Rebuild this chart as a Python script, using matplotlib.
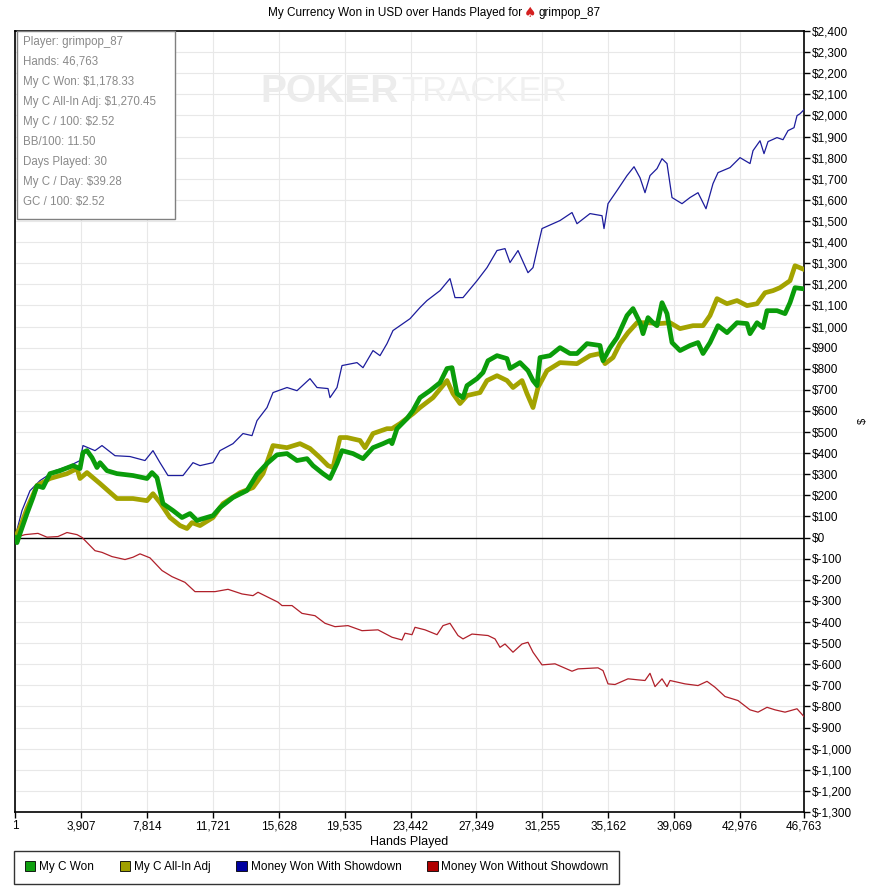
import matplotlib.pyplot as plt
from matplotlib.patches import Patch, Rectangle
from matplotlib.ticker import FuncFormatter

# values
won_hands = [1, 119, 296, 711, 1067, 1304, 1660, 2074, 2667, 3438, 3853, 4030, 4267, 4564, 4860, 5038,
             5453, 6046, 6994, 7824, 8120, 8416, 8772, 9365, 9898, 10372, 10787, 11143, 11735, 12150,
             12921, 13750, 14343, 14936, 15529, 16122, 16714, 17307, 17662, 18255, 18670, 19085, 19381,
             20033, 20626, 21219, 21811, 22226, 22345, 22641, 23234, 23589, 24004, 24597, 25190, 25605,
             25901, 26197, 26553, 26790, 27383, 27738, 28034, 28568, 29161, 29339, 29931, 30405, 30702,
             30939, 31117, 31709, 32302, 32895, 33309, 33902, 34673, 34851, 35266, 35680, 36273, 36629,
             37044, 37222, 37518, 37815, 38051, 38348, 38644, 38940, 39415, 40007, 40481, 40778, 41193,
             41666, 42200, 42793, 43386, 43564, 43979, 44334, 44571, 45163, 45638, 45934, 46231, 46763]
won_vals = [0, -24, 19, 114, 190, 246, 237, 303, 317, 341, 327, 403, 412, 379, 332, 355,
            317, 303, 294, 280, 308, 284, 161, 128, 95, 114, 81, 90, 104, 142,
            190, 223, 300, 351, 392, 398, 365, 374, 341, 303, 280, 351, 412,
            398, 374, 426, 445, 460, 445, 516, 564, 602, 663, 696, 734, 801,
            805, 682, 663, 720, 753, 782, 838, 862, 848, 801, 829, 791, 744,
            720, 853, 862, 900, 872, 872, 919, 910, 838, 900, 947, 1052, 1085,
            1018, 966, 1042, 1018, 1004, 1113, 1061, 924, 886, 910, 924, 872, 924,
            1004, 971, 1018, 1014, 966, 1018, 995, 1075, 1075, 1061, 1113, 1184, 1178.33]

adj_hands = [1, 296, 711, 1304, 2074, 3082, 3675, 3853, 4267, 5038, 6046, 6994, 7824, 8179, 8594,
             9187, 9780, 10194, 10491, 10965, 11735, 12328, 13336, 14106, 14699, 15292, 16122, 16892,
             17485, 18077, 18552, 18848, 19263, 19678, 20448, 20745, 21219, 22048, 22345, 22819, 23589,
             24004, 24775, 25605, 25960, 26375, 26790, 27561, 27975, 28568, 29161, 29516, 30050, 30346,
             30702, 30998, 31532, 32302, 33309, 34080, 34673, 34969, 35443, 35859, 36333, 36867, 37459,
             38229, 38822, 39415, 40185, 40778, 41193, 41607, 42200, 42793, 43386, 43979, 44453, 44926,
             45342, 45934, 46231, 46763]
adj_vals = [0, 47, 137, 246, 280, 303, 327, 280, 308, 256, 185, 185, 175, 208, 166,
            95, 57, 43, 71, 57, 95, 161, 213, 237, 303, 436, 426, 445,
            422, 379, 341, 332, 474, 474, 460, 426, 493, 516, 516, 540, 587,
            616, 663, 744, 682, 635, 673, 687, 744, 767, 744, 711, 744, 682,
            616, 711, 791, 829, 824, 862, 872, 824, 853, 919, 971, 1018, 1018,
            1014, 1018, 990, 1004, 1004, 1052, 1132, 1108, 1123, 1099, 1108, 1160, 1170,
            1184, 1217, 1288, 1270.45]

sd_hands = [1, 415, 889, 1482, 2371, 3260, 3853, 4030, 4742, 5156, 5927, 6816, 7705, 8179, 8594,
            9068, 9957, 10550, 10965, 11735, 12150, 12921, 13514, 14047, 14343, 14936, 15292, 16122,
            16714, 17485, 17900, 18552, 18670, 19085, 19381, 20270, 20626, 21219, 21634, 22048, 22404,
            22819, 23412, 24004, 24419, 25190, 25782, 26079, 26553, 27383, 27975, 28568, 29042, 29339,
            29813, 30405, 30702, 30998, 31235, 32302, 33013, 33309, 34080, 34791, 34910, 35147, 35680,
            36273, 36689, 37044, 37340, 37636, 38051, 38348, 38644, 38940, 39533, 40007, 40481, 40955,
            41370, 41666, 42378, 42971, 43564, 43741, 44156, 44393, 44630, 45163, 45519, 45816, 46171,
            46349, 46527, 46763]
sd_vals = [0, 128, 222, 270, 317, 341, 365, 436, 412, 436, 388, 384, 365, 412, 355,
           294, 294, 355, 341, 355, 412, 445, 493, 483, 554, 616, 687, 711,
           696, 753, 711, 706, 663, 711, 815, 829, 805, 886, 862, 919, 981,
           1004, 1037, 1090, 1123, 1170, 1227, 1137, 1137, 1217, 1279, 1360, 1369, 1303,
           1360, 1255, 1279, 1383, 1464, 1502, 1540, 1487, 1535, 1525, 1464, 1582, 1644,
           1715, 1757, 1705, 1634, 1715, 1748, 1795, 1772, 1611, 1582, 1611, 1634, 1558,
           1677, 1729, 1753, 1800, 1772, 1833, 1880, 1819, 1876, 1895, 1885, 1928, 1942,
           1999, 2008, 2027]

nsd_hands = [1, 593, 1363, 1897, 2549, 3082, 3675, 3971, 4742, 5156, 5749, 6520, 6994, 7409, 8001,
             8713, 9305, 10076, 10669, 11854, 12625, 13455, 14106, 14403, 15588, 15825, 16418, 17011,
             17781, 18374, 18966, 19737, 20567, 21515, 22345, 22938, 23115, 23530, 23708, 24301, 25012,
             25368, 25782, 26257, 26553, 27086, 28035, 28450, 28746, 29042, 29516, 30050, 30406, 30702,
             31235, 32006, 33013, 33369, 34554, 34851, 35147, 35562, 36333, 36925, 37340, 37636, 37933,
             38348, 38644, 38822, 39711, 40481, 41015, 41489, 42082, 42852, 43563, 44037, 44571, 45045,
             45638, 46349, 46763]
nsd_vals = [0, 14, 20, 2, 5, 24, 14, 1, -62, -70, -90, -104, -93, -77, -96,
            -156, -185, -212, -256, -256, -245, -267, -275, -259, -306, -322, -322, -359,
            -370, -406, -422, -417, -441, -437, -472, -485, -453, -460, -425, -437, -460,
            -417, -406, -464, -480, -457, -464, -480, -520, -504, -543, -504, -496, -543,
            -603, -598, -633, -622, -617, -630, -693, -696, -669, -674, -677, -643, -706,
            -669, -706, -677, -693, -701, -681, -709, -753, -772, -816, -827, -804, -816,
            -827, -811, -848]

x_ticks = [1, 3907, 7814, 11721, 15628, 19535, 23442, 27349, 31255, 35162, 39069, 42976, 46763]

stats = ["Player: grimpop_87", "Hands: 46,763", "My C Won: $1,178.33", "My C All-In Adj: $1,270.45",
         "My C / 100: $2.52", "BB/100: 11.50", "Days Played: 30", "My C / Day: $39.28", "GC / 100: $2.52"]

plt.rcParams['font.family'] = ['Liberation Sans', 'DejaVu Sans']

W, H = 871, 894
fig = plt.figure(figsize=(W / 100, H / 100), dpi=100)
ax = fig.add_axes([15 / W, 82 / H, 789 / W, 781 / H])

ax.plot(sd_hands, sd_vals, color="#1c1c9c", lw=0.9, zorder=3)
ax.plot(nsd_hands, nsd_vals, color="#b0202a", lw=0.9, zorder=3)
ax.plot(adj_hands, adj_vals, color="#a3a300", lw=3.4, zorder=4)
ax.plot(won_hands, won_vals, color="#0a9c0a", lw=3.4, zorder=5)
ax.axhline(0, color="black", lw=1, zorder=2)

ax.set_xlim(1, 46763)
ax.set_ylim(-1300, 2400)
ax.set_xticks(x_ticks)
ax.set_xticklabels([f"{t:,}" for t in x_ticks])
ax.set_yticks(range(-1300, 2401, 100))
ax.yaxis.set_major_formatter(FuncFormatter(lambda v, p: "$" + f"{int(v):,}"))
ax.yaxis.tick_right()
ax.tick_params(labelsize=8.5, length=4, width=1, pad=2)
ax.grid(True, color="#e8e8e8", lw=0.8, zorder=0)
ax.set_axisbelow(True)
for s in ax.spines.values():
    s.set_linewidth(1.2)
ax.set_xlabel("Hands Played", fontsize=9, labelpad=3)
fig.text(863 / W, 1 - 421 / H, "$", fontsize=8, rotation=90, ha="center", va="center")

# watermark
ax.text(0.311, 0.922, "POKER", transform=ax.transAxes, fontsize=28, fontweight="bold",
        color="#ececec", ha="left", va="center", zorder=1)
ax.text(0.489, 0.922, "TRACKER", transform=ax.transAxes, fontsize=25,
        color="#f0f0f0", ha="left", va="center", zorder=1)

# stats box
fig.patches.append(Rectangle((17 / W, 1 - 219 / H), 158 / W, 188 / H, transform=fig.transFigure,
                             fc="white", ec="#808080", lw=1, zorder=6))
for i, line in enumerate(stats):
    fig.text(23 / W, 1 - (42 + 20 * i) / H, line, fontsize=8.3, color="#8a8a8a",
             ha="left", va="center", zorder=7)

# title with red spade
fig.text(522 / W, 1 - 13 / H, "My Currency Won in USD over Hands Played for", fontsize=8.5,
         ha="right", va="center")
fig.text(530 / W, 1 - 13 / H, "\u2660", fontsize=10, color="#d42020", ha="center", va="center",
         family="DejaVu Sans")
fig.text(538 / W, 1 - 13 / H, "grimpop_87", fontsize=8.5, ha="left", va="center")

handles = [Patch(fc="#10a010", ec="black", lw=0.6), Patch(fc="#a0a000", ec="black", lw=0.6),
           Patch(fc="#0000a0", ec="black", lw=0.6), Patch(fc="#b00000", ec="black", lw=0.6)]
labels = ["My C Won", "My C All-In Adj", "Money Won With Showdown", "Money Won Without Showdown"]
leg = fig.legend(handles, labels, loc="lower left", bbox_to_anchor=(14 / W, 10 / H), ncol=4,
                 fontsize=8.5, frameon=True, fancybox=False, edgecolor="black", handlelength=0.9,
                 handleheight=0.9, handletextpad=0.3, columnspacing=2.2, borderpad=0.9,
                 borderaxespad=0)
leg.get_frame().set_linewidth(1)

fig.savefig("out.png", dpi=100)
